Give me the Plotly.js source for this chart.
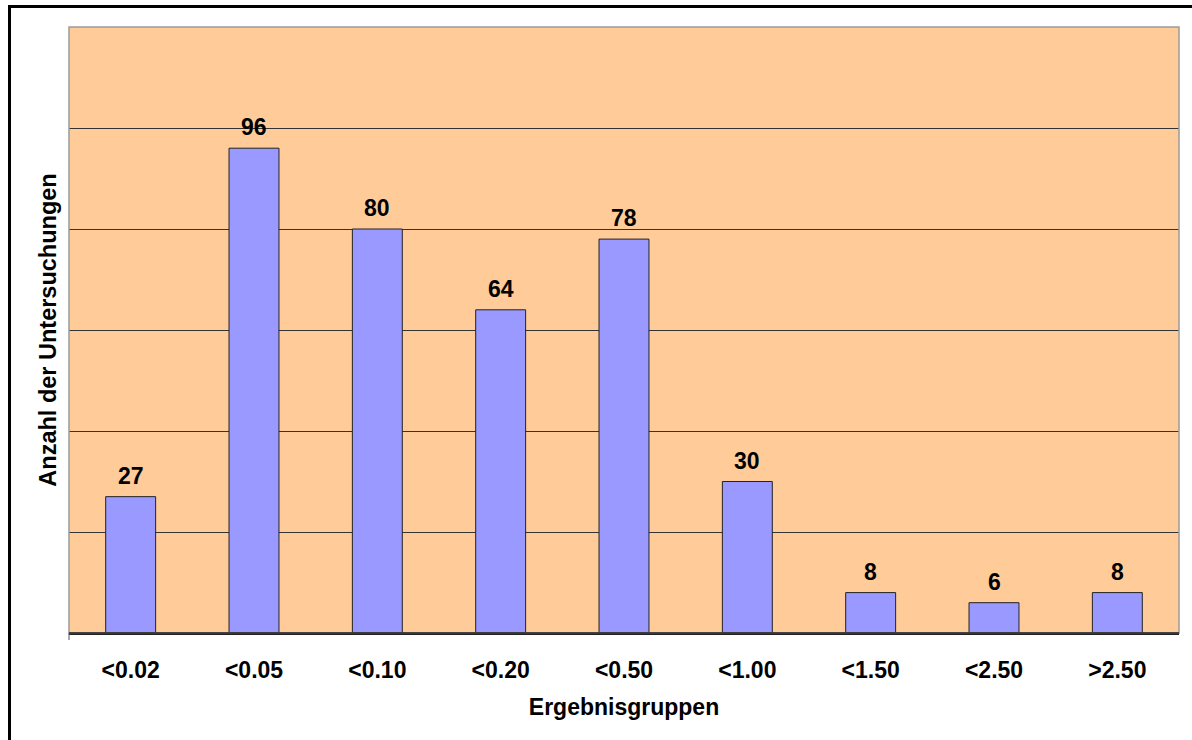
<!DOCTYPE html>
<html>
<head>
<meta charset="utf-8">
<script src="https://cdn.plot.ly/plotly-3.0.1.min.js"></script>
<style>
  html, body { margin: 0; padding: 0; background: #ffffff; overflow: hidden; }
  #wrap { position: relative; width: 1192px; height: 740px; overflow: hidden; background: #ffffff; }
  #chart { position: absolute; left: 0; top: 0; width: 1192px; height: 740px; }
  /* outer chart border (open to the right and bottom) */
  #frame {
    position: absolute; left: 8px; top: 5px; width: 1184px; height: 735px;
    border-left: 3px solid #000; border-top: 3px solid #000;
    box-sizing: border-box;
    pointer-events: none;
  }
  /* keep the strip right of the plot clean */
  #edge {
    position: absolute; left: 1181px; top: 9px; width: 11px; height: 731px;
    background: #ffffff; pointer-events: none;
  }
</style>
</head>
<body>
<div id="wrap">
  <div id="chart"></div>
  <div id="edge"></div>
  <div id="frame"></div>
</div>
<script>
// Result groups and number of examinations per group
const categories = ['<0.02', '<0.05', '<0.10', '<0.20', '<0.50', '<1.00', '<1.50', '<2.50', '>2.50'];
const counts = [27, 96, 80, 64, 78, 30, 8, 6, 8];

const FONT = 'Arial, "Liberation Sans", sans-serif';
const SIZE = 23;

const barTrace = {
  type: 'bar',
  x: categories,
  y: counts,
  marker: { color: '#9999FF', line: { color: '#222222', width: 1 } },
  hoverinfo: 'x+y'
};

// value labels above each bar
const valueLabels = categories.map((c, i) => ({
  x: c,
  y: counts[i],
  xref: 'x',
  yref: 'y',
  text: String(counts[i]),
  showarrow: false,
  yanchor: 'bottom',
  yshift: 6,
  font: { family: FONT, size: SIZE, color: '#000000', weight: 'bold' }
}));

const layout = {
  width: 1192,
  height: 740,
  margin: { l: 69, r: 13, t: 27, b: 107 },
  paper_bgcolor: '#ffffff',
  plot_bgcolor: '#FFCC99',
  showlegend: false,
  bargap: 0.595,
  font: { family: FONT, color: '#000000' },
  xaxis: {
    type: 'category',
    showgrid: false,
    showline: true,
    linecolor: '#222222',
    linewidth: 1.5,
    ticks: '',
    ticklabelstandoff: 16,
    tickfont: { family: FONT, size: SIZE, color: '#000000', weight: 'bold' },
    title: {
      text: 'Ergebnisgruppen',
      font: { family: FONT, size: SIZE, color: '#000000', weight: 'bold' },
      standoff: 17
    },
    automargin: false
  },
  yaxis: {
    range: [0, 120],
    dtick: 20,
    tick0: 0,
    showgrid: true,
    gridcolor: '#333333',
    gridwidth: 1,
    zeroline: false,
    showline: false,
    showticklabels: false,
    ticks: '',
    title: {
      text: 'Anzahl der Untersuchungen',
      font: { family: FONT, size: 23.5, color: '#000000', weight: 'bold' },
      standoff: 4
    },
    automargin: false
  },
  annotations: valueLabels,
  shapes: [
    // grey frame of the plotting area
    { type: 'rect', xref: 'paper', yref: 'paper', x0: 0, x1: 1, y0: 0, y1: 1,
      line: { color: '#9a9a9a', width: 1.5 }, layer: 'above' },
    // category axis line on top of the frame
    { type: 'line', xref: 'paper', yref: 'paper', x0: 0, x1: 1, y0: 0, y1: 0,
      line: { color: '#222222', width: 1.5 }, layer: 'above' },
    // small tick at the axis origin
    { type: 'line', xref: 'paper', yref: 'paper', x0: 0, x1: 0, y0: 0, y1: -7 / 606,
      line: { color: '#555555', width: 1 }, layer: 'above' }
  ]
};

Plotly.newPlot('chart', [barTrace], layout, { displayModeBar: false, staticPlot: true });
</script>
</body>
</html>
